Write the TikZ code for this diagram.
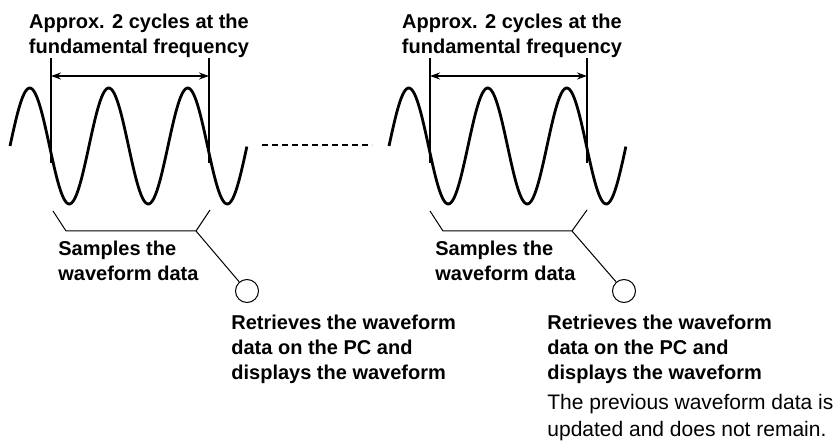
\documentclass[tikz,border=0pt]{standalone}
\usepackage{fontspec}
\setmainfont{Liberation Sans}
\usepackage{tikz}
\usetikzlibrary{arrows.meta,positioning}
\tikzset{head/.style={font=\fontsize{10}{12.5}\selectfont\bfseries,align=center,inner sep=0pt,anchor=north}}
\tikzset{lbl/.style={font=\fontsize{10}{12.5}\selectfont\bfseries,align=left,inner sep=0pt,anchor=north west}}
\tikzset{note/.style={font=\fontsize{10.5}{13.2}\selectfont,align=left,inner sep=0pt,anchor=north west}}
\tikzset{wave/.style={line width=1.4pt}}
\tikzset{guide/.style={line width=0.6pt}}
\tikzset{brack/.style={line width=0.5pt}}
\tikzset{knob/.style={circle,draw,line width=0.5pt,minimum size=11.5pt,inner sep=0pt}}

\begin{document}
\begin{tikzpicture}[x=0.5pt,y=-0.5pt,>={Stealth[length=5pt,width=3.5pt]}]
    \useasboundingbox (0,0) rectangle (836,443);

    \node[head] (headl) at (139,14) {Approx. 2 cycles at the\\fundamental frequency};
    \node[head] (headr) at (512,14) {Approx. 2 cycles at the\\fundamental frequency};
    \node[lbl] (samplel) at (58,241) {Samples the\\waveform data};
    \node[lbl] (sampler) at (435,241) {Samples the\\waveform data};
    \node[lbl] (getl) at (231,315) {Retrieves the waveform\\data on the PC and\\displays the waveform};
    \node[lbl] (getr) at (547,315) {Retrieves the waveform\\data on the PC and\\displays the waveform};
    \node[note] (prev) at (547,394) {The previous waveform data is\\updated and does not remain.};

    \node[knob] (pcl) at (247,291) {};
    \node[knob] (pcr) at (624,291) {};

    % waves
    \draw[wave] plot[domain=0:3,samples=151] ({10+79*\x},{146-58*sin(360*\x)});
    \draw[wave] plot[domain=0:3,samples=151] ({389+79*\x},{146-58*sin(360*\x)});
    \coordinate (dotl) at (262,145);
    \coordinate (dotr) at (372,145);
    \draw [line width=0.8pt,dash pattern=on 3pt off 2pt] (dotl) -- (dotr);

    % cycle marks
    \coordinate (tl1) at (51,58);  \coordinate (bl1) at (51,163);
    \coordinate (tl2) at (209,58); \coordinate (bl2) at (209,163);
    \coordinate (tr1) at (430,58); \coordinate (br1) at (430,163);
    \coordinate (tr2) at (587,58); \coordinate (br2) at (587,163);
    \draw [guide] (tl1) -- (bl1);
    \draw [guide] (tl2) -- (bl2);
    \draw [guide] (tr1) -- (br1);
    \draw [guide] (tr2) -- (br2);
    \draw [guide,<->] ([yshift=-9pt]tl1) -- ([yshift=-9pt]tl2);
    \draw [guide,<->] ([yshift=-9pt]tr1) -- ([yshift=-9pt]tr2);

    % brackets
    \coordinate (cornl) at (196,231);
    \coordinate (cornr) at (572,231);
    \draw [brack] (53,211) -- (66,231) -- (cornl) -- (210,210);
    \draw [brack] (430,211) -- (443,231) -- (cornr) -- (587,210);
    \draw [brack] (cornl) -- (pcl);
    \draw [brack] (cornr) -- (pcr);
\end{tikzpicture}
\end{document}
